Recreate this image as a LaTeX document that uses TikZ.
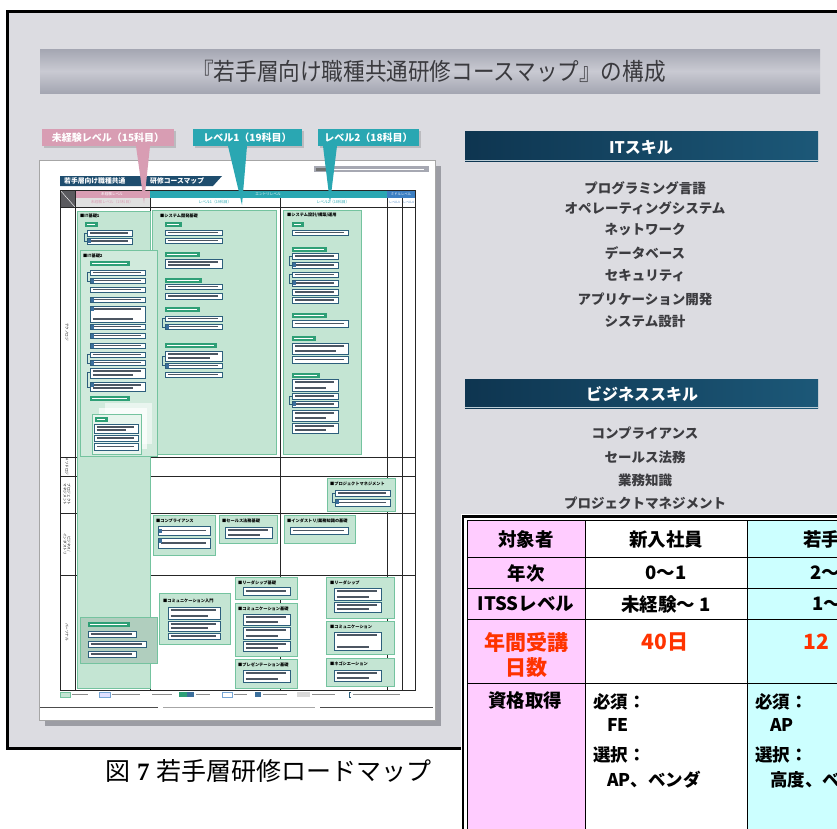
\documentclass[tikz,border=0pt]{standalone}
\usepackage{fontspec}
\usepackage{graphicx}
\setmainfont{Noto Sans CJK JP}
\newfontfamily\timesfont{Liberation Serif}
\definecolor{slidebg}{HTML}{DCDCE1}
\definecolor{tbdark}{HTML}{A4A6B2}
\definecolor{tblight}{HTML}{C9CAD2}
\definecolor{titletext}{HTML}{3A3A3E}
\definecolor{pinkc}{HTML}{D89DB3}
\definecolor{tealc}{HTML}{2AA7B2}
\definecolor{bluec}{HTML}{3C7FC2}
\definecolor{hdrgray}{HTML}{5A5A5E}
\definecolor{ribbonc}{HTML}{1E4D6E}
\definecolor{urlc}{HTML}{A6A8B2}
\definecolor{greenf}{HTML}{C4E5D3}
\definecolor{greenb}{HTML}{74C39F}
\definecolor{tabc}{HTML}{2E9F76}
\definecolor{mboxc}{HTML}{2D5F7C}
\definecolor{tlinec}{HTML}{4C5662}
\definecolor{bluesqc}{HTML}{3B6F9C}
\definecolor{shadowc}{HTML}{9C9DA4}
\definecolor{barl}{HTML}{0E3550}
\definecolor{barr}{HTML}{1C5878}
\definecolor{skilltext}{HTML}{3C3C40}
\definecolor{pinkt}{HTML}{FFCCFF}
\definecolor{cyant}{HTML}{CCFFFF}
\definecolor{redt}{HTML}{FF3300}
\newcommand\minibx[4]{\filldraw[mbox] (#1,#2) rectangle (#3,#4); \draw[tline] ({#1+2.5},{(#2+#4)/2}) -- ({#3-4},{(#2+#4)/2});}
\newcommand\minibxx[4]{\filldraw[mbox] (#1,#2) rectangle (#3,#4); \draw[tline] ({#1+2.5},{#2+3}) -- ({#3-4},{#2+3}); \draw[tline] ({#1+2.5},{#4-3}) -- ({#3-12},{#4-3});}
\newcommand\bluesq[2]{\fill[bluesqc] (#1,#2) rectangle ++(3.2,4);}
\newcommand\greentab[3]{\fill[tabc] (#1,#2) rectangle (#3,{#2+5}); \draw[white,line width=0.8] ({#1+2},{#2+2.5}) -- ({#3-3},{#2+2.5});}
\tikzset{
  mbox/.style={draw=mboxc, fill=white, line width=0.45},
  tline/.style={draw=tlinec, line width=1.2},
  lbar/.style={draw=black!45, line width=1},
  mgreen/.style={draw=greenb, fill=greenf, line width=0.6},
  mhead/.style={font=\fontsize{4.2}{4.2}\selectfont\bfseries, anchor=west, inner sep=0},
  rowlab/.style={font=\fontsize{3.6}{4}\selectfont, rotate=-90, inner sep=0, align=center},
  lvlab/.style={font=\fontsize{10}{10}\selectfont\bfseries, text=white, inner sep=0},
  skill/.style={font=\fontsize{13.5}{14}\selectfont\bfseries, text=skilltext, inner sep=0},
  barlab/.style={font=\fontsize{16}{16}\selectfont\bfseries, text=white, inner sep=0},
  tb/.style={font=\fontsize{18.5}{19}\selectfont\bfseries, inner sep=0},
  tbl/.style={font=\fontsize{17.5}{18}\selectfont\bfseries, inner sep=0, anchor=west},
  tr/.style={font=\fontsize{21}{22}\selectfont\bfseries, text=redt, inner sep=0},
}
\begin{document}
\begin{tikzpicture}[x=1pt,y=-1pt]
\useasboundingbox (0,0) rectangle (837,828);
\clip (0,0) rectangle (837,828);
\fill[white] (0,0) rectangle (837,828);
% slide
\fill[slidebg] (8,10) rectangle (860,748);
\draw[line width=3] (7.5,11) rectangle (870,748);
% title bar
\shade[top color=tbdark, bottom color=tbdark, middle color=tblight] (40,49) rectangle (820,93);
\node[font=\fontsize{24}{24}\selectfont, text=titletext, inner sep=0] (title) at (429,71) {\scalebox{0.9}[1]{『若手層向け職種共通研修コースマップ』の構成}};
% ---------------- mini document ----------------
\fill[shadowc] (45,166) rectangle (441,726);
\filldraw[fill=white, draw=black!35, line width=0.5] (39,160) rectangle (435,720);
% ribbon
\fill[ribbonc] (60,176) -- (222,176) -- (213,186) -- (60,186) -- cycle;
\node[font=\fontsize{6.8}{7}\selectfont\bfseries, text=white, anchor=west, inner sep=0] (rib1) at (64,181) {若手層向け職種共通};
\node[font=\fontsize{6.8}{7}\selectfont\bfseries, text=white, anchor=west, inner sep=0] (rib2) at (150,181) {研修コースマップ};
% url bar
\fill[urlc] (314,166) rectangle (429,172);
\fill[black!55] (316,167.5) rectangle (328,170.5);
\draw[white, line width=0.9] (332,169) -- (424,169);
% header row
\fill[hdrgray] (60,190) rectangle (75,207);
\draw[white, line width=0.4] (60,190) -- (75,207);
\fill[pinkc] (75,190) rectangle (150,198);
\fill[tealc] (150,190) rectangle (387,198);
\fill[bluec] (387,190) rectangle (415,198);
\fill[black!12] (75,198) rectangle (150,207);
\node[font=\fontsize{3.6}{4}\selectfont, text=white, inner sep=0] (h0) at (112,194) {未経験レベル};
\node[font=\fontsize{3.6}{4}\selectfont, text=white, inner sep=0] (h1) at (268,194) {エントリレベル};
\node[font=\fontsize{3.4}{4}\selectfont, text=white, inner sep=0] (h2) at (401,194) {ミドルレベル};
\node[font=\fontsize{3.8}{4}\selectfont, text=pinkc, inner sep=0] (l0) at (112,202.5) {未経験レベル（15科目）};
\node[font=\fontsize{3.8}{4}\selectfont, text=tealc, inner sep=0] (l1) at (215,202.5) {レベル1（19科目）};
\node[font=\fontsize{3.8}{4}\selectfont, text=tealc, inner sep=0] (l2) at (333,202.5) {レベル2（18科目）};
\node[font=\fontsize{3}{4}\selectfont, text=bluec, inner sep=0] (l3) at (394.5,202.5) {レベル3};
\node[font=\fontsize{3}{4}\selectfont, text=bluec, inner sep=0] (l4) at (408.5,202.5) {レベル4};
% grid
\draw[black!85, line width=0.6] (60,190) rectangle (415,690);
\foreach \yy in {207,457,476,513,575} \draw[black!85, line width=0.6] (60,\yy) -- (415,\yy);
\draw[black!85, line width=0.6] (75,190) -- (75,690);
\foreach \xx in {150,280,387,402} \draw[black!85, line width=0.6] (\xx,198) -- (\xx,690);
% row labels
\node[rowlab] (rl1) at (67,332) {テクノロジ};
\node[rowlab] (rl2) at (67,466.5) {メソドロジ};
\node[rowlab] (rl3) at (67,494.5) {プロジェクト\\マネジメント};
\node[rowlab] (rl4) at (67,544) {ビジネス/\\インダストリ};
\node[rowlab] (rl5) at (67,632) {パーソナル};
% green areas
\filldraw[mgreen] (77,211) rectangle (150,688);
\filldraw[mgreen] (152,210) rectangle (276,454);
\filldraw[mgreen] (283,210) rectangle (361,454);
% IT kiso 1
\node[mhead] (k1) at (80,215.5) {■IT基礎1};
\greentab{85}{222}{98}
\minibx{87}{230}{132}{236}
\minibx{87}{238}{132}{244}\bluesq{88}{239}
\draw[mboxc, line width=0.4] (87,233) -- (84.5,233) -- (84.5,241) -- (87,241);
% IT kiso 2
\filldraw[mgreen, fill=greenf!80!white] (80,250) rectangle (157,456);
\node[mhead] (k2) at (83,255.5) {■IT基礎2};
\greentab{90}{261}{130}
\foreach \ya/\yb in {270/275,278/283,287/292,297/302,324/329,333/338,343/348,352/357,360/365} {\minibx{90}{\ya}{145}{\yb}}
\minibxx{90}{306}{145}{322}
\minibxx{90}{368}{145}{378}
\minibxx{90}{382}{145}{391}
\bluesq{91}{278.5}\bluesq{91}{297.5}\bluesq{91}{307}\bluesq{91}{324.5}\bluesq{91}{333.5}\bluesq{91}{343.5}\bluesq{91}{360.5}\bluesq{91}{382.5}
\draw[mboxc, line width=0.4] (90,272) -- (87.5,272) -- (87.5,281) -- (90,281);
\draw[mboxc, line width=0.4] (90,354) -- (87.5,354) -- (87.5,363) -- (90,363);
\draw[mboxc, line width=0.4] (90,372) -- (87.5,372) -- (87.5,387) -- (90,387);
\greentab{90}{396}{130}
\fill[white, opacity=0.55] (105,403) rectangle (152,444);
\fill[white, opacity=0.7] (99,408) rectangle (147,449);
\filldraw[fill=greenf!40!white, draw=greenb, line width=0.4] (92,414) rectangle (141,454);
\greentab{95}{417}{108}
\minibxx{94}{424}{138}{433}
\minibx{94}{435}{138}{441}
\minibx{94}{443}{138}{450}
% level 1
\node[mhead] (s1) at (160,215.5) {■システム開発基礎};
\greentab{165}{222}{182}
\minibx{165}{230}{222}{235}
\minibx{165}{238}{222}{243}
\greentab{165}{252}{200}
\minibxx{165}{259}{222}{268}
\greentab{165}{278}{202}
\minibx{165}{284}{222}{289}
\minibx{165}{293}{222}{299}
\greentab{165}{307}{200}
\minibx{165}{316}{222}{321}
\minibx{165}{324}{222}{329}\bluesq{166}{324.5}
\draw[mboxc, line width=0.4] (165,318) -- (162.5,318) -- (162.5,327) -- (165,327);
\greentab{165}{343}{217}
\minibxx{165}{351}{222}{361}
\minibx{165}{363}{222}{368}\bluesq{166}{363.5}
\minibx{165}{372}{222}{377}
\draw[mboxc, line width=0.4] (165,356) -- (162.5,356) -- (162.5,365) -- (165,365);
% level 2
\node[mhead] (s2) at (287,215.5) {■システム設計/構築/運用};
\greentab{292}{222}{304}
\minibx{292}{230}{348}{235}
\greentab{292}{247}{327}
\foreach \ya/\yb in {253/259,262/268,272/277,280/286,289/295,297/303} {\minibx{292}{\ya}{338}{\yb}}
\bluesq{293}{263}\bluesq{293}{281}
\draw[mboxc, line width=0.4] (292,256) -- (289.5,256) -- (289.5,265) -- (292,265);
\draw[mboxc, line width=0.4] (292,274) -- (289.5,274) -- (289.5,283) -- (292,283);
\greentab{292}{313}{327}
\minibx{292}{320}{348}{327}
\greentab{292}{336}{316}
\minibxx{292}{343}{348}{354}
\minibx{292}{356}{348}{363}
\greentab{292}{373}{320}
\minibxx{292}{379}{338}{391}
\minibx{292}{393}{338}{399}
\minibx{292}{401}{338}{407}\bluesq{293}{402}
\draw[mboxc, line width=0.4] (292,396) -- (289.5,396) -- (289.5,404) -- (292,404);
\minibxx{292}{410}{338}{421}
\minibxx{292}{423}{338}{433}
% PM row
\filldraw[mgreen] (327,478) rectangle (395,511);
\node[mhead] (pm) at (330,483.5) {■プロジェクトマネジメント};
\minibx{335}{490}{390}{496}
\minibx{335}{499}{390}{506}\bluesq{336}{500}
\draw[mboxc, line width=0.4] (335,493) -- (332.5,493) -- (332.5,502) -- (335,502);
% business row
\filldraw[mgreen] (153,515) rectangle (215,555);
\node[mhead] (cp) at (156,521) {■コンプライアンス};
\minibx{158}{526}{210}{535}\bluesq{159}{528.5}
\minibx{158}{538}{210}{548}\bluesq{159}{539}
\filldraw[mgreen] (219,515) rectangle (277,543);
\node[mhead] (sl) at (222,521) {■セールス法務基礎};
\minibxx{225}{527}{272}{538}
\filldraw[mgreen] (284,515) rectangle (355,543);
\node[mhead] (ind) at (287,521) {■インダストリ/業務知識の基礎};
\minibx{290}{527}{348}{534}
% personal row
\filldraw[mgreen, fill=greenf!90!black] (80,617) rectangle (157,663);
\greentab{88}{622}{130}
\minibx{88}{631}{136}{637}
\minibx{88}{641}{146}{647}
\minibx{88}{651}{136}{657}
\filldraw[mgreen] (159,593) rectangle (230,644);
\node[mhead] (cm) at (163,601) {■コミュニケーション入門};
\minibxx{168}{607}{220}{619}
\minibxx{168}{621}{220}{631}
\minibx{168}{633}{220}{639}
\filldraw[mgreen] (235,577) rectangle (297,599);
\node[mhead] (ld) at (238,582.5) {■リーダシップ基礎};
\minibx{243}{587}{290}{595}
\filldraw[mgreen] (235,603) rectangle (297,656);
\node[mhead] (cb) at (238,609) {■コミュニケーション基礎};
\minibxx{243}{614}{290}{625}
\minibxx{243}{627}{290}{639}
\minibxx{243}{641}{290}{651}
\filldraw[mgreen] (235,659) rectangle (297,688);
\node[mhead] (pr) at (238,665) {■プレゼンテーション基礎};
\minibxx{243}{670}{290}{682}
\filldraw[mgreen] (326,577) rectangle (394,618);
\node[mhead] (ld2) at (330,582.5) {■リーダシップ};
\minibxx{334}{588}{381}{600}
\minibxx{334}{602}{381}{612}
\filldraw[mgreen] (326,621) rectangle (394,654);
\node[mhead] (cm2) at (330,627) {■コミュニケーション};
\minibxx{334}{632}{381}{650}
\filldraw[mgreen] (326,658) rectangle (394,686);
\node[mhead] (ng) at (330,664) {■ネゴシエーション};
\minibxx{334}{670}{381}{681}
% legend
\filldraw[fill=greenf, draw=greenb, line width=0.4] (60,692) rectangle (70,697); \draw[lbar] (72,694.5) -- (88,694.5);
\filldraw[fill=blue!12, draw=bluec!70, line width=0.4] (99,692) rectangle (110,697); \draw[lbar] (112,694.5) -- (140,694.5);
\draw[lbar] (152,694.5) -- (172,694.5);
\fill[tabc] (179,692) rectangle (187,697); \fill[bluesqc] (187,692) rectangle (194,697); \draw[lbar] (196,694.5) -- (210,694.5);
\draw[draw=bluec!70, line width=0.4] (222,692) rectangle (232,697); \draw[lbar] (234,694.5) -- (247,694.5);
\fill[bluesqc] (255,692) rectangle (261,697); \draw[lbar] (263,694.5) -- (287,694.5);
\fill[black!15] (297,692) rectangle (310,697); \draw[lbar] (312,694.5) -- (335,694.5);
\draw[mboxc, line width=0.4] (351,692) -- (349,692) -- (349,697) -- (351,697); \draw[lbar] (353,694.5) -- (400,694.5);
% copyright
\draw[black!70, line width=0.5] (40,707) -- (158,707);
\draw[black!35, line width=1] (163,707) -- (315,707);
\draw[black!70, line width=0.5] (320,707) -- (433,707);
% ---------------- level labels ----------------
\fill[black, opacity=0.15] (44,131) rectangle (176,148);
\fill[pinkc] (42,129) rectangle (174,146);
\fill[pinkc] (136,146) -- (150,146) -- (144,203) -- cycle;
\node[lvlab] (lab0) at (108,137.5) {未経験レベル（15科目）};
\fill[black, opacity=0.15] (195,131) rectangle (304,148);
\fill[tealc] (193,129) rectangle (302,146);
\fill[tealc] (228,146) -- (247,146) -- (242,205) -- cycle;
\node[lvlab] (lab1) at (247.5,137.5) {レベル1（19科目）};
\fill[black, opacity=0.15] (320,131) rectangle (421,148);
\fill[tealc] (318,129) rectangle (419,146);
\fill[tealc] (323,146) -- (337,146) -- (330,203) -- cycle;
\node[lvlab] (lab2) at (368.5,137.5) {レベル2（18科目）};
% ---------------- skill lists ----------------
\shade[left color=barl, right color=barr] (465,131) rectangle (818,161);
\draw[white!70!barr, line width=0.8] (465,160.6) -- (818,160.6);
\node[barlab] (itbar) at (641,147) {ITスキル};
\node[skill] (it1) at (645,188) {プログラミング言語};
\node[skill] (it2) at (645,208) {オペレーティングシステム};
\node[skill] (it3) at (645,229.5) {ネットワーク};
\node[skill] (it4) at (645,253) {データベース};
\node[skill] (it5) at (645,276) {セキュリティ};
\node[skill] (it6) at (645,299) {アプリケーション開発};
\node[skill] (it7) at (645,321.5) {システム設計};
\shade[left color=barl, right color=barr] (465,379) rectangle (818,408);
\draw[white!70!barr, line width=0.8] (465,407.6) -- (818,407.6);
\node[barlab] (bzbar) at (642,394) {ビジネススキル};
\node[skill] (bz1) at (645,433) {コンプライアンス};
\node[skill] (bz2) at (645,457) {セールス法務};
\node[skill] (bz3) at (645,480) {業務知識};
\node[skill] (bz4) at (645,503) {プロジェクトマネジメント};
% ---------------- table ----------------
\fill[white] (461,514) rectangle (900,900);
\fill[pinkt] (467,520) rectangle (585,900);
\fill[cyant] (747,520) rectangle (900,900);
\draw[line width=2.6] (462.8,516.3) rectangle (950,950);
\foreach \yy in {520,557,588,619,683} \draw[line width=0.9] (467,\yy) -- (900,\yy);
\foreach \xx in {467,585,747} \draw[line width=0.9] (\xx,520) -- (\xx,900);
\node[tb] (c11) at (526,539) {対象者};
\node[tb] (c12) at (666,539) {新入社員};
\node[tb, anchor=west] (c13) at (803,539) {若手};
\node[tb] (c21) at (526,573) {年次};
\node[tb] (c22) at (666,573) {0〜1};
\node[tb, anchor=west] (c23) at (810,573) {2〜};
\node[tb] (c31) at (526,604) {ITSSレベル};
\node[tb] (c32) at (666,604) {未経験〜 1};
\node[tb, anchor=west] (c33) at (812,604) {1〜};
\node[tr] (c41) at (526,642) {年間受講};
\node[tr] (c41b) at (526,668) {日数};
\node[tr] (c42) at (665,642) {40日};
\node[tr, anchor=west] (c43) at (803,642) {12};
\node[tb] (c51) at (525,700) {資格取得};
\node[tbl] (c52a) at (593,702) {必須：};
\node[tbl] (c52b) at (607,725) {FE};
\node[tbl] (c52c) at (593,755) {選択：};
\node[tbl] (c52d) at (607,780) {AP、ベンダ};
\node[tbl] (c53a) at (755,702) {必須：};
\node[tbl] (c53b) at (770,725) {AP};
\node[tbl] (c53c) at (755,755) {選択：};
\node[tbl] (c53d) at (770,780) {高度、ベンダ};
% ---------------- caption ----------------
\node[font=\fontsize{25}{25}\selectfont, anchor=west, inner sep=0] (cap) at (105,771) {図\hspace{7pt}{\timesfont\bfseries 7}\hspace{7pt}若手層研修ロードマップ};
\end{tikzpicture}
\end{document}
